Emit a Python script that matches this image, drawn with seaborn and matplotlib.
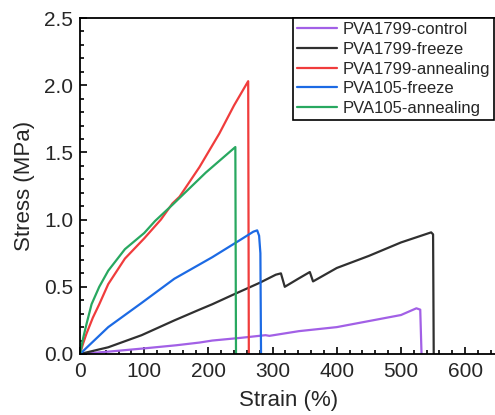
import numpy as np
import pandas as pd
import matplotlib
matplotlib.use('Agg')
import matplotlib.pyplot as plt
import seaborn as sns
from matplotlib.ticker import MultipleLocator

# curve: deformazione (%) e sforzo (MPa)
control_x = [0, 50, 96, 150, 186, 206, 250, 289, 295, 341, 400, 450, 500, 524, 530, 532]
control_y = [0, 0.02, 0.04, 0.065, 0.085, 0.10, 0.12, 0.14, 0.135, 0.17, 0.20, 0.245, 0.29, 0.34, 0.33, 0]

freeze1799_x = [0, 44, 96, 147, 186, 206, 238, 280, 305, 313, 319, 340, 358, 363, 400, 450, 500, 547, 550, 551]
freeze1799_y = [0, 0.05, 0.14, 0.25, 0.33, 0.37, 0.44, 0.53, 0.59, 0.60, 0.50, 0.56, 0.61, 0.54, 0.64, 0.73, 0.83, 0.905, 0.89, 0]

anneal1799_x = [0, 5, 10, 20, 30, 44, 70, 100, 126, 144, 155, 186, 217, 240, 262, 263]
anneal1799_y = [0, 0.08, 0.15, 0.27, 0.37, 0.52, 0.71, 0.86, 1.0, 1.12, 1.17, 1.39, 1.64, 1.85, 2.03, 0]

freeze105_x = [0, 44, 96, 147, 206, 250, 270, 276, 279, 281, 282]
freeze105_y = [0, 0.2, 0.38, 0.56, 0.72, 0.85, 0.91, 0.92, 0.88, 0.75, 0]

anneal105_x = [0, 5, 10, 18, 30, 44, 70, 100, 117, 144, 196, 242, 243]
anneal105_y = [0, 0.12, 0.22, 0.37, 0.5, 0.62, 0.78, 0.9, 0.99, 1.11, 1.35, 1.54, 0]

labels = ['PVA1799-control', 'PVA1799-freeze', 'PVA1799-annealing', 'PVA105-freeze', 'PVA105-annealing']
colori = ['#a260e6', '#303030', '#f03c3c', '#1c6ae4', '#28a860']

serie = [(control_x, control_y), (freeze1799_x, freeze1799_y), (anneal1799_x, anneal1799_y),
         (freeze105_x, freeze105_y), (anneal105_x, anneal105_y)]
frames = []
for lab, (xs, ys) in zip(labels, serie):
    frames.append(pd.DataFrame({'strain': xs, 'stress': ys, 'campione': lab}))
df = pd.concat(frames, ignore_index=True)

sns.set_style('ticks')
plt.rcParams['font.family'] = ['Liberation Sans', 'DejaVu Sans']

fig = plt.figure(figsize=(4.95, 4.15), dpi=100)
ax = fig.add_axes([0.1616, 0.147, 0.843, 0.8096])

sns.lineplot(data=df, x='strain', y='stress', hue='campione', hue_order=labels,
             palette=dict(zip(labels, colori)), sort=False, estimator=None,
             linewidth=1.6, ax=ax)

ax.set_xlim(0, 650)
ax.set_ylim(0, 2.5)
ax.xaxis.set_major_locator(MultipleLocator(100))
ax.xaxis.set_minor_locator(MultipleLocator(20))
ax.yaxis.set_major_locator(MultipleLocator(0.5))
ax.yaxis.set_minor_locator(MultipleLocator(0.1))
ax.yaxis.set_major_formatter(matplotlib.ticker.FormatStrFormatter('%.1f'))
ax.tick_params(which='both', direction='in', top=False, right=False, labelsize=15, width=1.2, color='black')
ax.tick_params(axis='x', which='both', pad=6)
ax.tick_params(axis='y', which='both', pad=5)
ax.tick_params(which='major', length=5)
ax.tick_params(which='minor', length=3)
for s in ax.spines.values():
    s.set_visible(True)
    s.set_color('black')
    s.set_linewidth(1.3)

ax.set_xlabel('Strain (%)', fontsize=16, labelpad=6)
ax.set_ylabel('Stress (MPa)', fontsize=16, labelpad=6)

leg = ax.legend(loc='upper left', bbox_to_anchor=(0.511, 1.0), borderaxespad=0, fontsize=12,
                frameon=True, fancybox=False, edgecolor='black', framealpha=1,
                handlelength=2.4, handletextpad=0.3, labelspacing=0.28, borderpad=0.25)
leg.get_frame().set_linewidth(1.2)

fig.savefig('out.png', dpi=100)
